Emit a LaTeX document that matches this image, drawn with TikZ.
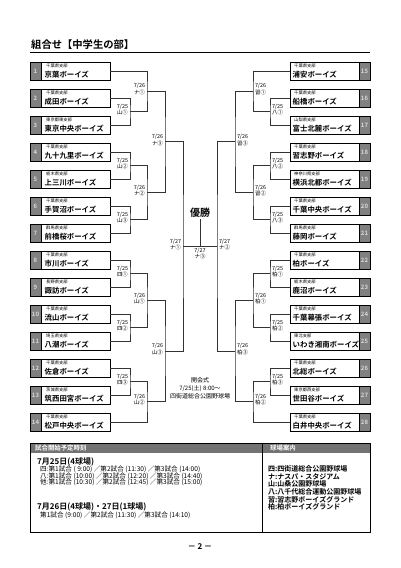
\documentclass[tikz,border=0pt]{standalone}
\usepackage{fontspec}
\setmainfont{Noto Sans CJK JP}[BoldFont={Noto Sans CJK JP Bold}]
\usetikzlibrary{shadows}

\tikzset{
  teambox/.style={draw, fill=white, line width=0.5pt, minimum width=69pt, minimum height=18pt, inner sep=0pt,
    drop shadow={shadow xshift=0.9pt, shadow yshift=-0.9pt, fill=black, opacity=1}},
  numbox/.style={draw, fill=black!50, line width=0.5pt, minimum width=11pt, minimum height=18pt, inner sep=0pt,
    text=white!85!black, font=\bfseries\fontsize{6}{6}\selectfont,
    drop shadow={shadow xshift=0.9pt, shadow yshift=-0.9pt, fill=black, opacity=1}},
  preftext/.style={anchor=west, inner sep=0pt, font=\fontsize{4.3}{4.3}\selectfont},
  nametext/.style={anchor=west, inner sep=0pt, font=\bfseries\fontsize{7.4}{7.4}\selectfont},
  bline/.style={draw=black!80, line width=1pt},
  rlabel/.style={align=center, inner sep=0pt, font=\fontsize{5.4}{6.4}\selectfont},
  llab/.style={rlabel, anchor=east, xshift=-1.8pt, yshift=2pt},
  rlab/.style={rlabel, anchor=west, xshift=1.8pt, yshift=2pt},
  timetext/.style={anchor=west, inner sep=0pt, font=\fontsize{6.6}{6.6}\selectfont},
  dayhead/.style={anchor=west, inner sep=0pt, font=\bfseries\fontsize{8}{8}\selectfont},
  venue/.style={anchor=west, inner sep=0pt, font=\bfseries\fontsize{7}{7}\selectfont},
  headtext/.style={anchor=west, inner sep=0pt, text=white, font=\bfseries\fontsize{6.4}{6.4}\selectfont},
}

\begin{document}
\begin{tikzpicture}[x=1pt, y=-1pt]
  \useasboundingbox (0,0) rectangle (401,568);

  % title
  \node[anchor=west, inner sep=0pt, font=\bfseries\fontsize{10.3}{10.3}\selectfont] (title) at (31,45) {組合せ【中学生の部】};
  \draw[line width=1pt] (30,52) -- (370,52);

  % teams, left side
  \foreach \n/\pref/\name in {1/千葉県支部/京葉ボーイズ, 2/千葉県支部/成田ボーイズ, 3/東京都東支部/東京中央ボーイズ,
      4/千葉県支部/九十九里ボーイズ, 5/栃木県支部/上三川ボーイズ, 6/千葉県支部/手賀沼ボーイズ, 7/群馬県支部/前橋桜ボーイズ,
      8/千葉県支部/市川ボーイズ, 9/長野県支部/諏訪ボーイズ, 10/千葉県支部/流山ボーイズ, 11/埼玉県支部/八潮ボーイズ,
      12/千葉県支部/佐倉ボーイズ, 13/茨城県支部/筑西田宮ボーイズ, 14/千葉県支部/松戸中央ボーイズ} {
    \pgfmathsetmacro{\yy}{71+27*(\n-1)}
    \node[numbox] (n\n) at (35.5,\yy) {\n};
    \node[teambox] (t\n) at (75.5,\yy) {};
    \node[preftext] (p\n) at (46,\yy-5) {\pref};
    \node[nametext] (s\n) at (44.5,\yy+3.3) {\name};
  }

  % teams, right side
  \foreach \n/\pref/\name in {15/千葉県支部/浦安ボーイズ, 16/千葉県支部/船橋ボーイズ, 17/山梨県支部/富士北麓ボーイズ,
      18/千葉県支部/習志野ボーイズ, 19/神奈川県支部/横浜北都ボーイズ, 20/千葉県支部/千葉中央ボーイズ, 21/群馬県支部/藤岡ボーイズ,
      22/千葉県支部/柏ボーイズ, 23/栃木県支部/鹿沼ボーイズ, 24/千葉県支部/千葉幕張ボーイズ, 25/東北支部/いわき湘南ボーイズ,
      26/千葉県支部/北総ボーイズ, 27/東京都西支部/世田谷ボーイズ, 28/千葉県支部/白井中央ボーイズ} {
    \pgfmathsetmacro{\yy}{71+27*(\n-15)}
    \node[teambox] (t\n) at (324.5,\yy) {};
    \node[numbox] (n\n) at (364.5,\yy) {\n};
    \node[preftext] (p\n) at (294,\yy-5) {\pref};
    \node[nametext] (s\n) at (292.5,\yy+3.3) {\name};
  }

  % match points
  \coordinate (mA) at (130,111.5);
  \coordinate (mB) at (147,91.25);
  \coordinate (mC) at (130,165.5);
  \coordinate (mD) at (130,219.5);
  \coordinate (mE) at (147,192.5);
  \coordinate (mF) at (165,141.9);
  \coordinate (mG) at (130,273.5);
  \coordinate (mH) at (130,327.5);
  \coordinate (mI) at (147,300.5);
  \coordinate (mJ) at (130,381.5);
  \coordinate (mK) at (147,401.75);
  \coordinate (mL) at (165,351.1);
  \coordinate (mM) at (183,246.5);
  \coordinate (mN) at (270,111.5);
  \coordinate (mO) at (253,91.25);
  \coordinate (mP) at (270,165.5);
  \coordinate (mQ) at (270,219.5);
  \coordinate (mR) at (253,192.5);
  \coordinate (mS) at (235,141.9);
  \coordinate (mT) at (270,273.5);
  \coordinate (mU) at (270,327.5);
  \coordinate (mV) at (253,300.5);
  \coordinate (mW) at (270,381.5);
  \coordinate (mX) at (253,401.75);
  \coordinate (mY) at (235,351.1);
  \coordinate (mZ) at (217,246.5);
  \coordinate (fin) at (200,246.5);

  % left bracket
  \draw[bline] (t2.east) -| (mA) |- (t3.east);
  \draw[bline] (t1.east) -| (mB) |- (mA);
  \draw[bline] (t4.east) -| (mC) |- (t5.east);
  \draw[bline] (t6.east) -| (mD) |- (t7.east);
  \draw[bline] (mC) -| (mE) |- (mD);
  \draw[bline] (mB) -| (mF) |- (mE);
  \draw[bline] (t8.east) -| (mG) |- (t9.east);
  \draw[bline] (t10.east) -| (mH) |- (t11.east);
  \draw[bline] (mG) -| (mI) |- (mH);
  \draw[bline] (t12.east) -| (mJ) |- (t13.east);
  \draw[bline] (mJ) -| (mK) |- (t14.east);
  \draw[bline] (mI) -| (mL) |- (mK);
  \draw[bline] (mF) -| (mM) |- (mL);

  % right bracket
  \draw[bline] (t16.west) -| (mN) |- (t17.west);
  \draw[bline] (t15.west) -| (mO) |- (mN);
  \draw[bline] (t18.west) -| (mP) |- (t19.west);
  \draw[bline] (t20.west) -| (mQ) |- (t21.west);
  \draw[bline] (mP) -| (mR) |- (mQ);
  \draw[bline] (mO) -| (mS) |- (mR);
  \draw[bline] (t22.west) -| (mT) |- (t23.west);
  \draw[bline] (t24.west) -| (mU) |- (t25.west);
  \draw[bline] (mT) -| (mV) |- (mU);
  \draw[bline] (t26.west) -| (mW) |- (t27.west);
  \draw[bline] (mW) -| (mX) |- (t28.west);
  \draw[bline] (mV) -| (mY) |- (mX);
  \draw[bline] (mS) -| (mZ) |- (mY);

  % final
  \node[inner sep=1pt, font=\bfseries\fontsize{10}{10}\selectfont] (win) at (200,213) {優勝};
  \draw[bline] (mM) -- (mZ);
  \draw[bline] (fin) -- (win.south);

  % match labels
  \foreach \m/\v in {A/山①, C/山②, D/山③, G/四①, H/四②, J/四③}
    \node[llab] (l\m) at (m\m) {7/25\\\v};
  \foreach \m/\v in {B/ナ①, E/ナ②, F/ナ③, I/山①, K/山②, L/山③}
    \node[llab] (l\m) at (m\m) {7/26\\\v};
  \foreach \m/\v in {N/八①, P/八②, Q/八③, T/柏①, U/柏②, W/柏③}
    \node[rlab] (l\m) at (m\m) {7/25\\\v};
  \foreach \m/\v in {O/習①, R/習②, S/習③, V/柏①, X/柏②, Y/柏③}
    \node[rlab] (l\m) at (m\m) {7/26\\\v};
  \node[llab] (lM) at (mM) {7/27\\ナ①};
  \node[rlab] (lZ) at (mZ) {7/27\\ナ②};
  \node[rlabel, anchor=north, yshift=-1.5pt] (lfin) at (fin) {7/27\\ナ③};

  % opening ceremony
  \node[align=center, inner sep=0pt, font=\fontsize{6}{8}\selectfont] (open) at (200,388) {開会式\\7/25(土) 8:00～\\四街道総合公園野球場};

  % schedule table
  \fill[black!55] (30,443) rectangle (370,453);
  \draw[line width=0.6pt] (30,443) rectangle (370,532);
  \draw[line width=0.6pt] (262,443) -- (262,532);
  \node[headtext] (h1) at (35,448) {試合開始予定時刻};
  \node[headtext] (h2) at (270,448) {球場案内};

  \node[dayhead] (d1) at (37,462) {7月25日(4球場)};
  \node[timetext] (k1) at (40,469.5) {四:第1試合 ( 9:00) ／第2試合 (11:30) ／第3試合 (14:00)};
  \node[timetext] (k2) at (40,476) {八:第1試合 (10:00) ／第2試合 (12:20) ／第3試合 (14:40)};
  \node[timetext] (k3) at (40,482.5) {他:第1試合 (10:30) ／第2試合 (12:45) ／第3試合 (15:00)};
  \node[dayhead] (d2) at (37,507) {7月26日(4球場)・27日(1球場)};
  \node[timetext] (k4) at (40,515) {第1試合 (9:00) ／第2試合 (11:30) ／第3試合 (14:10)};

  \node[venue] (v1) at (268,469) {四:四街道総合公園野球場};
  \node[venue] (v2) at (268,476.6) {ナ:ナスパ・スタジアム};
  \node[venue] (v3) at (268,484.2) {山:山桑公園野球場};
  \node[venue] (v4) at (268,491.8) {八:八千代総合運動公園野球場};
  \node[venue] (v5) at (268,499.4) {習:習志野ボーイズグランド};
  \node[venue] (v6) at (268,507) {柏:柏ボーイズグランド};

  % page number
  \node[font=\bfseries\fontsize{8}{8}\selectfont] (page) at (200,547) {－ 2 －};
\end{tikzpicture}
\end{document}
